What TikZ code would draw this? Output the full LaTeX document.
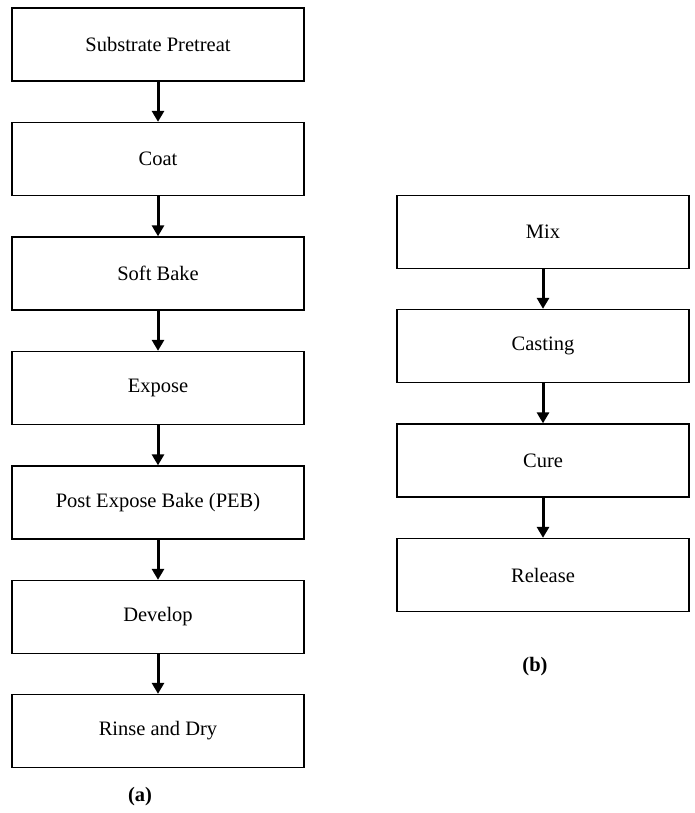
\documentclass[tikz,border=0pt]{standalone}
\usepackage{fontspec}
\setmainfont{Liberation Serif}
\usetikzlibrary{arrows.meta}
\begin{document}
\begin{tikzpicture}[x=1pt,y=-1pt,
  stepbox/.style={draw=black,line width=1.3pt,minimum width=292pt,minimum height=73pt,
    inner sep=0pt,font=\fontsize{20.5}{24}\selectfont},
  flow/.style={line width=3pt,-{Triangle[width=12pt,length=11pt]}},
  caption/.style={font=\fontsize{20.5}{24}\selectfont\bfseries}]
\useasboundingbox (0,0) rectangle (694,813);
% process (a)
\node[stepbox] (a1) at (158,44.5)  {Substrate Pretreat};
\node[stepbox] (a2) at (158,159)   {Coat};
\node[stepbox] (a3) at (158,273.5) {Soft Bake};
\node[stepbox] (a4) at (158,388)   {Expose};
\node[stepbox] (a5) at (158,502.5) {Post Expose Bake (PEB)};
\node[stepbox] (a6) at (158,617)   {Develop};
\node[stepbox] (a7) at (158,731)   {Rinse and Dry};
\node[caption] (capa) at (140,797) {(a)};
\foreach \i/\j in {a1/a2,a2/a3,a3/a4,a4/a5,a5/a6,a6/a7}
  \draw[flow] (\i.south) -- (\j.north);
% process (b)
\node[stepbox] (b1) at (543,232)   {Mix};
\node[stepbox] (b2) at (543,346)   {Casting};
\node[stepbox] (b3) at (543,460.5) {Cure};
\node[stepbox] (b4) at (543,575)   {Release};
\node[caption] (capb) at (535,667) {(b)};
\foreach \i/\j in {b1/b2,b2/b3,b3/b4}
  \draw[flow] (\i.south) -- (\j.north);
\end{tikzpicture}
\end{document}
